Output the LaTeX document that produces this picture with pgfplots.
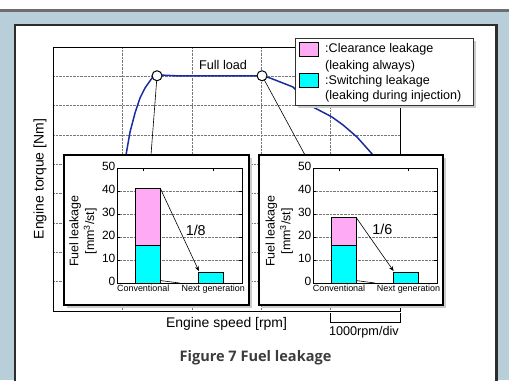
\documentclass[border=0pt]{standalone}
\usepackage{pgfplots}
\pgfplotsset{compat=1.18}
\usepackage{fontspec}
\setmainfont{Liberation Sans}
\newfontfamily\capfont{Open Sans}
\usetikzlibrary{arrows.meta}
\definecolor{bgblue}{RGB}{184,207,218}
\definecolor{topline}{RGB}{110,110,110}
\definecolor{curveblue}{RGB}{25,45,160}
\definecolor{pinkc}{RGB}{255,170,245}
\definecolor{cyanc}{RGB}{0,255,255}
\definecolor{framec}{RGB}{45,45,45}
\definecolor{gridc}{RGB}{120,120,120}
\definecolor{capc}{RGB}{60,60,60}

\pgfplotsset{
  inset/.style={
    anchor=south west, scale only axis, width=125bp, height=115bp,
    xmin=0.5, xmax=2.5, ymin=0, ymax=50,
    ybar stacked, bar width=25bp,
    xtick={0.92,2.04}, xticklabels={Conventional,Next generation},
    ytick={0,10,...,50},
    ymajorgrids, grid style={gridc, densely dotted, line width=0.6bp},
    tick align=inside, major tick length=3bp,
    tick style={black, line width=0.6bp},
    axis line style={black, line width=1bp},
    /pgf/number format/assume math mode=true,
    yticklabel style={font=\fontsize{12}{14}\selectfont, inner sep=1.5bp, yshift=1.5bp},
    xticklabel style={font=\fontsize{9}{11}\selectfont, inner sep=1bp, yshift=-1bp},
    ylabel={Fuel leakage\\{[}mm\textsuperscript{3}/st{]}},
    ylabel style={font=\fontsize{12.5}{16}\selectfont, align=center, at={(axis description cs:-0.272,0.45)}, anchor=center},
  }
}

\begin{document}
\begin{tikzpicture}[x=1bp,y=1bp]
\path[use as bounding box] (0,0) rectangle (509,380);
\fill[white] (0,0) rectangle (509,380);
\fill[bgblue] (0,0) rectangle (509,368);
\fill[topline] (0,368) rectangle (509,370.5);
\draw[framec, line width=2.2, fill=white] (15,-10) rectangle (496.5,355);

% ---------------- main axis ----------------
\begin{axis}[
  at={(53bp,69bp)}, anchor=south west, scale only axis,
  width=347bp, height=264bp,
  xmin=0, xmax=5, ymin=0, ymax=9,
  xtick={1,2,3,4}, ytick={1,...,8},
  xticklabels={}, yticklabels={},
  major tick length=0pt,
  grid=major, grid style={gridc, densely dotted, line width=0.6bp},
  axis line style={black, line width=0.9bp},
  clip=false,
  xlabel={Engine speed [rpm]},
  xlabel style={at={(axis description cs:0.5,0)}, anchor=center, yshift=-13bp, font=\fontsize{14}{16}\selectfont},
  ylabel={Engine torque [Nm]},
  ylabel style={at={(axis description cs:-0.0375,0.5)}, anchor=center, font=\fontsize{14}{16}\selectfont},
]
\addplot[curveblue, line width=1.5bp] coordinates {
  (1.030,5.216) (1.052,5.319) (1.110,6.103) (1.182,6.751) (1.254,7.262)
  (1.326,7.603) (1.427,7.944) (1.499,8.02) (1.585,8.04) (1.758,8.02)
  (3.012,8.02) (3.127,7.944) (3.458,7.637) (3.746,6.955) (4.020,6.614)
  (4.179,6.342) (4.380,5.932) (4.611,5.319) (4.654,5.148)
};
\addplot[black, line width=0.6bp] coordinates {(1.499,8.02) (1.412,5.319)};
\addplot[black, line width=0.6bp] coordinates {(3.012,8.02) (3.631,5.319)};
\addplot[only marks, mark=*, mark size=5bp, mark options={fill=white, draw=black, line width=1bp}]
  coordinates {(1.499,8.02) (3.012,8.02)};
% scale bar
\addplot[black, line width=0.8bp] coordinates {(4,-0.07) (4,-0.375) (5,-0.375) (5,-0.07)};
\node[font=\fontsize{12.7}{14}\selectfont] at (axis cs:4.48,-0.72) {1000rpm/div};
\node[font=\fontsize{12.7}{14}\selectfont] at (axis cs:2.45,8.39) {Full load};
\end{axis}

% ---------------- legend ----------------
\fill[gray!40] (297.5,272.5) rectangle (475.5,339.5);
\draw[black!80, line width=0.8, fill=white] (295,275) rectangle (473,342);
\draw[black, line width=0.7, fill=pinkc] (299,338) rectangle (318,324);
\draw[black, line width=0.7, fill=cyanc] (299,307) rectangle (318,293);
\begin{scope}[every node/.style={anchor=base west, inner sep=0pt, font=\fontsize{12.6}{15}\selectfont}]
\node at (325,327.5) {:Clearance leakage};
\node at (325,311) {(leaking always)};
\node at (325,295.5) {:Switching leakage};
\node at (325,280.5) {(leaking during injection)};
\end{scope}

% ---------------- left inset ----------------
\fill[gray!40] (66.5,72.5) rectangle (251.5,222.5);
\draw[black, line width=1.1, fill=white] (64,75) rectangle (249,225);
\begin{axis}[inset, at={(117bp,97bp)}]
\addplot[fill=cyanc, draw=black, line width=0.8bp] coordinates {(1,16.5) (2,4.7)};
\addplot[fill=pinkc, draw=black, line width=0.8bp] coordinates {(1,24.8) (2,0)};
\draw[black, line width=0.6bp, -{Stealth[length=5bp,width=4bp]}] (axis cs:1.19,41.3) -- (axis cs:1.81,5.2);
\draw[black, line width=0.6bp] (axis cs:1.5,0) -- ++(0,4bp);
\node[font=\fontsize{14.4}{16}\selectfont] at (axis cs:1.76,23) {1/8};
\end{axis}

% ---------------- right inset ----------------
\fill[gray!40] (261.5,72.5) rectangle (445.5,222.5);
\draw[black, line width=1.1, fill=white] (259,75) rectangle (443,225);
\begin{axis}[inset, at={(313bp,97bp)}, width=124bp]
\addplot[fill=cyanc, draw=black, line width=0.8bp] coordinates {(1,16.5) (2,4.7)};
\addplot[fill=pinkc, draw=black, line width=0.8bp] coordinates {(1,12.2) (2,0)};
\draw[black, line width=0.6bp, -{Stealth[length=5bp,width=4bp]}] (axis cs:1.19,28.7) -- (axis cs:1.80,5.2);
\draw[black, line width=0.6bp] (axis cs:1.5,0) -- ++(0,4bp);
\node[font=\fontsize{14.4}{16}\selectfont] at (axis cs:1.62,23.5) {1/6};
\end{axis}

% ---------------- caption ----------------
\node[font=\capfont\bfseries\fontsize{14.6}{18}\selectfont, text=capc] at (255.5,22) {Figure 7 Fuel leakage};
\end{tikzpicture}
\end{document}
